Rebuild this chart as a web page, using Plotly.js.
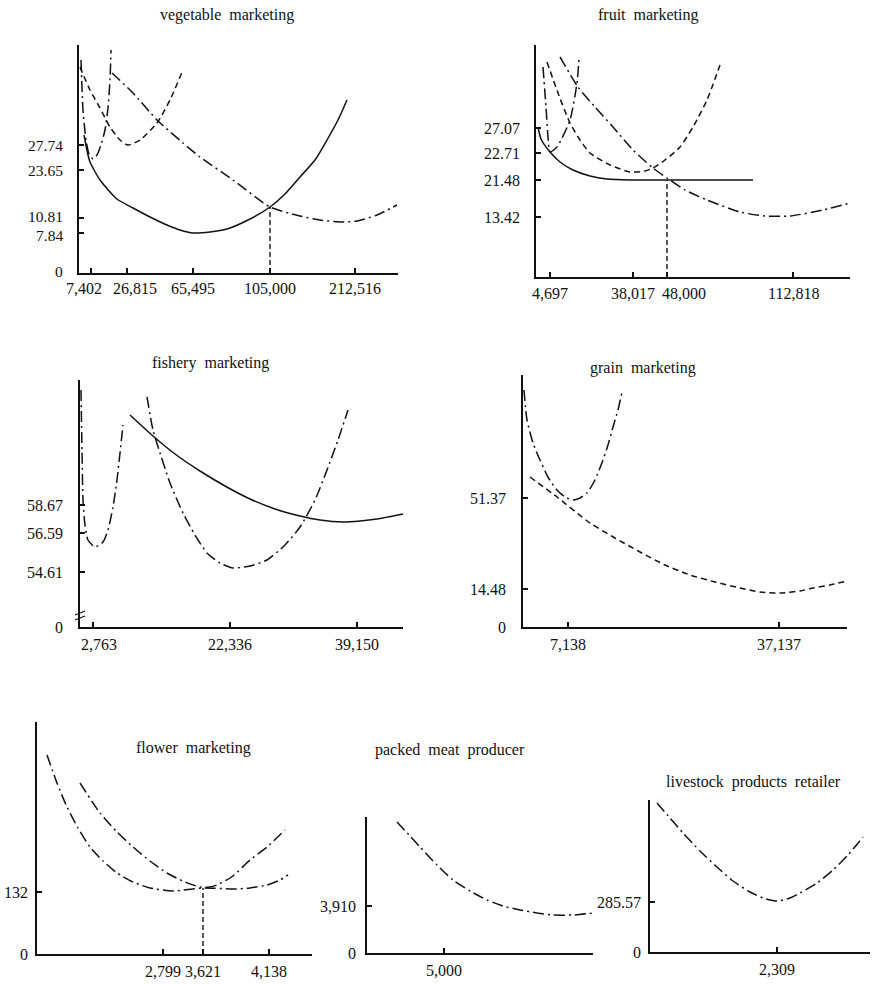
<!DOCTYPE html>
<html>
<head>
<meta charset="utf-8">
<script src="https://cdn.plot.ly/plotly-3.0.1.min.js"></script>
<style>html,body{margin:0;padding:0;background:#fff;}#chart{width:873px;height:984px;}</style>
</head>
<body>
<div id="chart"></div>
<script>
// ---------- panel titles ----------
const titles = ["vegetable  marketing", "fruit  marketing", "fishery  marketing", "grain  marketing",
                "flower  marketing", "packed  meat  producer", "livestock  products  retailer"];

// ---------- tick positions (schematic axis units) and labels ----------
const vegXTickVals = [12, 48, 114, 191, 276];
const vegXTickText = ["7,402", "26,815", "65,495", "105,000", "212,516"];
const vegYTickVals = [0, 40, 55, 103, 128];
const vegYTickText = ["0", "7.84", "10.81", "23.65", "27.74"];

const fruitXTickVals = [14, 97, 131, 257];
const fruitXTickText = ["4,697", "38,017", "48,000", "112,818"];
const fruitYTickVals = [60, 97, 124, 149];
const fruitYTickText = ["13.42", "21.48", "22.71", "27.07"];

const fishXTickVals = [13, 150, 277];
const fishXTickText = ["2,763", "22,336", "39,150"];
const fishYTickVals = [0, 55, 94, 122];
const fishYTickText = ["0", "54.61", "56.59", "58.67"];

const grainXTickVals = [45, 256];
const grainXTickText = ["7,138", "37,137"];
const grainYTickVals = [0, 38, 129];
const grainYTickText = ["0", "14.48", "51.37"];

const flowerXTickVals = [126, 166, 232];
const flowerXTickText = ["2,799", "3,621", "4,138"];
const flowerYTickVals = [0, 62];
const flowerYTickText = ["0", "132"];

const meatXTickVals = [77];
const meatXTickText = ["5,000"];
const meatYTickVals = [0, 47];
const meatYTickText = ["0", "3,910"];

const liveXTickVals = [127];
const liveXTickText = ["2,309"];
const liveYTickVals = [0, 50];
const liveYTickText = ["0", "285.57"];

// ---------- curves (schematic units) ----------
// vegetable marketing
const vegSolidX = [5, 9, 11, 21, 38, 54, 71, 88, 101, 114, 131, 148, 171, 191, 206, 221, 236, 248, 259, 268];
const vegSolidY = [138, 118, 111, 93, 74, 65, 56, 48, 43, 40, 41, 44, 54, 66, 79, 96, 113, 133, 153, 173];
const vegSmallDDX = [2, 4, 7, 10, 14, 18, 22, 26, 29, 31, 32];
const vegSmallDDY = [213, 163, 133, 119, 114, 118, 128, 143, 165, 193, 223];
const vegDashX = [1, 11, 21, 31, 41, 49, 61, 78, 91, 104];
const vegDashY = [206, 183, 165, 146, 133, 128, 133, 150, 173, 203];
const vegLongDDX = [33, 54, 78, 104, 121, 154, 191, 221, 241, 261, 278, 298, 318];
const vegLongDDY = [200, 180, 153, 130, 116, 93, 66, 57, 53, 51, 52, 58, 68];
const vegDropX = [191, 191];
const vegDropY = [0, 66];

// fruit marketing
const fruitSolidX = [2, 5, 14, 24, 37, 54, 71, 94, 131, 217];
const fruitSolidY = [150, 138, 125, 115, 107, 101, 98, 97, 97, 97];
const fruitSmallDDX = [7, 10, 12, 14, 21, 34, 41, 43];
const fruitSmallDDY = [210, 170, 140, 125, 130, 157, 194, 219];
const fruitDashX = [11, 22, 34, 44, 54, 74, 94, 109, 117, 129, 144, 157, 171, 184];
const fruitDashY = [215, 184, 154, 137, 124, 112, 105, 106, 109, 117, 130, 150, 177, 212];
const fruitLongDDX = [24, 42, 59, 77, 97, 117, 131, 149, 171, 204, 229, 254, 287, 314];
const fruitLongDDY = [220, 190, 170, 150, 127, 109, 99, 87, 77, 65, 61, 61, 67, 74];
const fruitDropX = [131, 131];
const fruitDropY = [0, 97];

// fishery marketing
const fishSmallDDX = [1, 2, 3, 5, 8, 15, 23, 28, 33, 37, 40, 43];
const fishSmallDDY = [237, 177, 127, 102, 87, 80, 85, 97, 120, 147, 174, 202];
const fishSolidX = [50, 73, 95, 120, 145, 170, 195, 220, 240, 263, 280, 297, 323];
const fishSolidY = [212, 191, 173, 156, 141, 128, 118, 111, 107, 105, 106, 108, 113];
const fishBigDDX = [67, 73, 80, 90, 103, 115, 127, 140, 153, 170, 187, 205, 220, 235, 247, 258, 268];
const fishBigDDY = [230, 197, 174, 144, 114, 92, 74, 64, 59, 61, 67, 82, 100, 127, 157, 187, 217];

// grain marketing
const grainDDX = [1, 4, 10, 17, 25, 34, 42, 50, 57, 64, 72, 80, 85, 90, 95, 99];
const grainDDY = [237, 207, 184, 167, 150, 137, 130, 127, 129, 134, 147, 167, 182, 200, 217, 235];
const grainDashX = [7, 34, 67, 92, 117, 142, 167, 192, 217, 237, 257, 277, 290, 307, 324];
const grainDashY = [150, 130, 104, 89, 75, 62, 52, 45, 39, 35, 34, 36, 39, 42, 46];

// flower marketing
const flowerAX = [10, 20, 30, 41, 53, 66, 80, 96, 113, 136, 166, 196, 213, 230, 243, 251];
const flowerAY = [199, 171, 147, 126, 107, 93, 81, 72, 66, 63, 66, 65, 66, 69, 74, 79];
const flowerBX = [43, 63, 80, 96, 113, 130, 148, 163, 173, 180, 196, 213, 230, 248];
const flowerBY = [171, 141, 122, 107, 93, 81, 72, 67, 67, 69, 78, 94, 107, 124];
const flowerDropX = [166, 166];
const flowerDropY = [0, 66];

// packed meat producer
const meatX = [30, 43, 53, 70, 86, 103, 120, 136, 153, 170, 186, 206, 226];
const meatY = [131, 117, 106, 88, 73, 62, 53, 47, 43, 40, 38, 38, 40];

// livestock products retailer
const liveX = [7, 20, 33, 50, 67, 83, 100, 113, 127, 140, 150, 167, 183, 198, 213];
const liveY = [149, 134, 119, 101, 85, 71, 60, 54, 51, 54, 59, 69, 82, 97, 115];

// ---------- layout geometry (pixels) ----------
const W = 873, H = 984;
const panels = [
  {ox: 79,  oy: 273, w: 319, h: 228, tx: 227, ty: 15,  gap: 14, lab: 15},
  {ox: 536, oy: 277, w: 314, h: 232, tx: 648, ty: 15,  gap: 14, lab: 16},
  {ox: 80,  oy: 627, w: 323, h: 247, tx: 210, ty: 363, gap: 15, lab: 17},
  {ox: 523, oy: 627, w: 324, h: 252, tx: 643, ty: 368, gap: 15, lab: 17},
  {ox: 37,  oy: 954, w: 275, h: 232, tx: 193, ty: 748, gap: 7,  lab: 17},
  {ox: 367, oy: 953, w: 226, h: 136, tx: 450, ty: 750, gap: 9,  lab: 17},
  {ox: 650, oy: 952, w: 220, h: 152, tx: 753, ty: 782, gap: 7,  lab: 17}
];
const ticks = [
  [vegXTickVals, vegXTickText, vegYTickVals, vegYTickText],
  [fruitXTickVals, fruitXTickText, fruitYTickVals, fruitYTickText],
  [fishXTickVals, fishXTickText, fishYTickVals, fishYTickText],
  [grainXTickVals, grainXTickText, grainYTickVals, grainYTickText],
  [flowerXTickVals, flowerXTickText, flowerYTickVals, flowerYTickText],
  [meatXTickVals, meatXTickText, meatYTickVals, meatYTickText],
  [liveXTickVals, liveXTickText, liveYTickVals, liveYTickText]
];
// labels nudged sideways / vertically as in the reference: [panel, tick index, shift px]
const xLabelNudges = [[0, 0, -7], [0, 1, 8], [1, 2, 17], [2, 0, 6]];
const yLabelNudges = [[0, 1, -2], [0, 2, 2], [0, 0, 2]];

const FONT = "Liberation Serif, Times New Roman, serif";
const INK = "#111";
const SOLID = "solid", DASH = "6px,4px", DD = "11px,4px,2px,4px";

function tr(p, x, y, dash) {
  const s = p === 1 ? "" : String(p);
  return {x: x, y: y, xaxis: "x" + s, yaxis: "y" + s, type: "scatter", mode: "lines",
          line: {color: INK, width: 1.5, dash: dash, shape: "spline", smoothing: 0.6},
          hoverinfo: "skip", showlegend: false};
}
function drop(p, x, y) {
  const t = tr(p, x, y, "5px,3px");
  t.line.shape = "linear"; t.line.width = 1.4;
  return t;
}

const data = [
  tr(1, vegSolidX, vegSolidY, SOLID),
  tr(1, vegSmallDDX, vegSmallDDY, DD),
  tr(1, vegDashX, vegDashY, DASH),
  tr(1, vegLongDDX, vegLongDDY, DD),
  drop(1, vegDropX, vegDropY),

  tr(2, fruitSolidX, fruitSolidY, SOLID),
  tr(2, fruitSmallDDX, fruitSmallDDY, DD),
  tr(2, fruitDashX, fruitDashY, DASH),
  tr(2, fruitLongDDX, fruitLongDDY, DD),
  drop(2, fruitDropX, fruitDropY),

  tr(3, fishSmallDDX, fishSmallDDY, DD),
  tr(3, fishSolidX, fishSolidY, SOLID),
  tr(3, fishBigDDX, fishBigDDY, DD),

  tr(4, grainDDX, grainDDY, DD),
  tr(4, grainDashX, grainDashY, DASH),

  tr(5, flowerAX, flowerAY, DD),
  tr(5, flowerBX, flowerBY, DD),
  drop(5, flowerDropX, flowerDropY),

  tr(6, meatX, meatY, DD),
  tr(7, liveX, liveY, DD)
];

const layout = {
  width: W, height: H,
  margin: {l: 0, r: 0, t: 0, b: 0},
  paper_bgcolor: "#fff", plot_bgcolor: "rgba(0,0,0,0)",
  font: {family: FONT, color: INK, size: 16},
  showlegend: false,
  annotations: [],
  shapes: []
};

panels.forEach((p, i) => {
  const s = i === 0 ? "" : String(i + 1);
  const [xv, xt, yv, yt] = ticks[i];
  // tick labels are drawn as annotations so single labels can be nudged like in the reference
  layout["xaxis" + s] = {
    domain: [p.ox / W, (p.ox + p.w) / W], range: [0, p.w], anchor: "y" + s,
    showline: true, linecolor: INK, linewidth: 1.5, showgrid: false, zeroline: false,
    ticks: "inside", ticklen: 5, tickcolor: INK, tickwidth: 1.3,
    tickmode: "array", tickvals: xv, showticklabels: false, fixedrange: true
  };
  layout["yaxis" + s] = {
    domain: [(H - p.oy) / H, (H - p.oy + p.h) / H], range: [0, p.h], anchor: "x" + s,
    showline: true, linecolor: INK, linewidth: 1.6, showgrid: false, zeroline: false,
    ticks: "inside", ticklen: 5, tickcolor: INK, tickwidth: 1.3,
    tickmode: "array", tickvals: yv, showticklabels: false, fixedrange: true
  };
  xv.forEach((v, k) => {
    const nudge = xLabelNudges.find(n => n[0] === i && n[1] === k);
    layout.annotations.push({
      text: xt[k], xref: "x" + s, yref: "paper", x: v, y: 1 - (p.oy + p.lab) / H,
      xshift: nudge ? nudge[2] : 0, xanchor: "center", yanchor: "middle", showarrow: false,
      font: {family: FONT, size: 16, color: INK}
    });
  });
  yv.forEach((v, k) => {
    const nudge = yLabelNudges.find(n => n[0] === i && n[1] === k);
    layout.annotations.push({
      text: yt[k], xref: "paper", yref: "y" + s, x: p.ox / W, y: v,
      xshift: -p.gap, yshift: nudge ? nudge[2] : 0,
      xanchor: "right", yanchor: "middle", showarrow: false,
      font: {family: FONT, size: i === 0 ? 15.5 : 16, color: INK}
    });
  });
  layout.annotations.push({
    text: titles[i], xref: "paper", yref: "paper", x: p.tx / W, y: 1 - p.ty / H,
    xanchor: "center", yanchor: "middle", showarrow: false,
    font: {family: FONT, size: 16, color: INK}
  });
});

// axis-break marks on the fishery y axis
[[611, 615], [616, 620]].forEach(([a, b]) => {
  layout.shapes.push({type: "line", xref: "paper", yref: "paper",
    x0: 75 / W, x1: 85 / W, y0: 1 - b / H, y1: 1 - a / H,
    line: {color: INK, width: 1.3}});
});

Plotly.newPlot("chart", data, layout, {staticPlot: true, displayModeBar: false});
</script>
</body>
</html>
